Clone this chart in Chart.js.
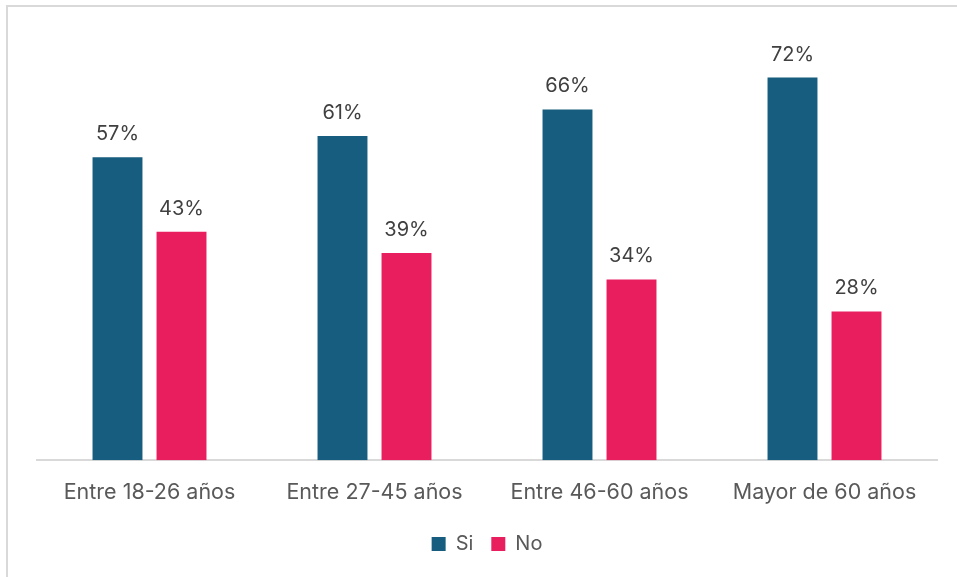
<!DOCTYPE html>
<html>
<head>
<meta charset="utf-8">
<script src="https://cdn.jsdelivr.net/npm/chart.js@4/dist/chart.umd.min.js"></script>
<style>
  html, body { margin: 0; padding: 0; background: #fff; }
  #wrap { position: relative; width: 957px; height: 577px; }
</style>
</head>
<body>
<div id="wrap"><canvas id="chart" width="957" height="577"></canvas></div>
<script>
// datos del gráfico
const CATEGORIES = ['Entre 18-26 años', 'Entre 27-45 años', 'Entre 46-60 años', 'Mayor de 60 años'];
const SI_VALUES = [57, 61, 66, 72];
const NO_VALUES = [43, 39, 34, 28];
const SERIES_NAMES = ['Si', 'No'];

const FONT = 'Inter, "Open Sans", sans-serif';

// marco gris alrededor del gráfico
const framePlugin = {
    id: 'frame',
    beforeDraw(chart) {
        const c = chart.ctx;
        c.save();
        c.strokeStyle = '#d9d9d9';
        c.lineWidth = 2;
        c.strokeRect(7, 6, 1000, 1000);
        c.restore();
    }
};

// etiquetas de porcentaje encima de cada barra
const labelsPlugin = {
    id: 'barLabels',
    afterDatasetsDraw(chart) {
        const c = chart.ctx;
        c.save();
        c.font = '20px ' + FONT;
        c.fillStyle = '#404040';
        c.textAlign = 'center';
        c.textBaseline = 'alphabetic';
        chart.data.datasets.forEach((ds, i) => {
            chart.getDatasetMeta(i).data.forEach((bar, j) => {
                c.fillText(ds.data[j] + '%', bar.x, bar.y - 17);
            });
        });
        c.restore();
    }
};

new Chart(document.getElementById('chart'), {
    type: 'bar',
    data: {
        labels: CATEGORIES,
        datasets: [{
            label: SERIES_NAMES[0],
            data: SI_VALUES,
            backgroundColor: '#175d7f',
            categoryPercentage: 0.569,
            barPercentage: 0.78
        }, {
            label: SERIES_NAMES[1],
            data: NO_VALUES,
            backgroundColor: '#e81e5f',
            categoryPercentage: 0.569,
            barPercentage: 0.78
        }]
    },
    options: {
        responsive: false,
        animation: false,
        layout: { padding: { left: 37, right: 20, top: 35, bottom: 13 } },
        plugins: {
            legend: {
                position: 'bottom',
                labels: {
                    boxWidth: 14,
                    boxHeight: 14,
                    padding: 18,
                    color: '#595959',
                    font: { family: FONT, size: 20 }
                }
            },
            tooltip: { enabled: false }
        },
        scales: {
            x: {
                grid: { display: false },
                border: { color: '#d9d9d9', width: 2 },
                ticks: {
                    color: '#595959',
                    padding: 11,
                    font: { family: FONT, size: 21.5 }
                }
            },
            y: {
                display: false,
                min: 0,
                max: 80
            }
        }
    },
    plugins: [framePlugin, labelsPlugin]
});
</script>
</body>
</html>
